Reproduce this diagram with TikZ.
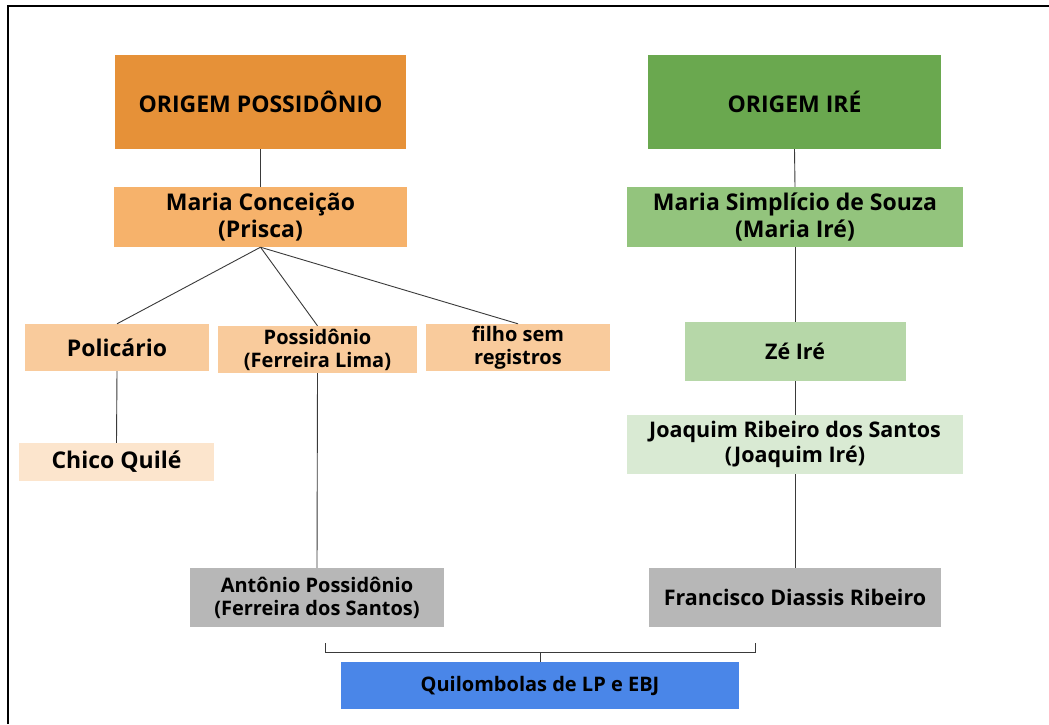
\documentclass[tikz,border=0pt]{standalone}
\usepackage{fontspec}
\setmainfont{Open Sans}[BoldFont={* Bold}]
\definecolor{orA}{HTML}{E69138}
\definecolor{orB}{HTML}{F6B26B}
\definecolor{orC}{HTML}{F9CB9C}
\definecolor{orD}{HTML}{FCE5CD}
\definecolor{grA}{HTML}{6AA84F}
\definecolor{grB}{HTML}{93C47D}
\definecolor{grC}{HTML}{B6D7A8}
\definecolor{grD}{HTML}{D9EAD3}
\definecolor{gyA}{HTML}{B7B7B7}
\definecolor{blA}{HTML}{4A86E8}
\definecolor{lnA}{HTML}{3A3A3A}
\tikzset{
  box/.style={rectangle, inner sep=0pt, align=center, text=black, font=\bfseries\fontsize{23}{27}\selectfont},
  mid/.style={font=\bfseries\fontsize{21.5}{25}\selectfont},
  small/.style={font=\bfseries\fontsize{20}{23}\selectfont},
  link/.style={draw=lnA, line width=0.9pt}
}
\begin{document}
\begin{tikzpicture}[x=1pt,y=-1pt]
\useasboundingbox (0,0) rectangle (1049,724);
\fill[white] (0,0) rectangle (1049,724);
\draw[line width=2.2pt] (8,724) -- (8,6) -- (1049,6);
% left branch
\node[box, fill=orA, minimum width=291, minimum height=94] (oP) at (260.5,102) {ORIGEM POSSIDÔNIO};
\node[box, fill=orB, minimum width=293, minimum height=60] (mc) at (260.5,217) {Maria Conceição\\(Prisca)};
\node[box, fill=orC, minimum width=184, minimum height=47] (pol) at (117,347.5) {Policário};
\node[box, small, fill=orC, minimum width=199, minimum height=47] (pos) at (317.5,349.5) {Possidônio\\(Ferreira Lima)};
\node[box, small, fill=orC, minimum width=184, minimum height=47] (fil) at (518,347.5) {filho sem\\registros};
\node[box, fill=orD, minimum width=195, minimum height=38] (chi) at (116.5,462) {Chico Quilé};
\node[box, small, fill=gyA, minimum width=254, minimum height=59] (ant) at (317,597.5) {Antônio Possidônio\\(Ferreira dos Santos)};
% right branch
\node[box, fill=grA, minimum width=293, minimum height=94] (oI) at (794.5,102) {ORIGEM IRÉ};
\node[box, fill=grB, minimum width=336, minimum height=60] (ms) at (795,217) {Maria Simplício de Souza\\(Maria Iré)};
\node[box, mid, fill=grC, minimum width=221, minimum height=59] (ze) at (795,351.5) {Zé Iré};
\node[box, mid, fill=grD, minimum width=336, minimum height=59] (jo) at (795,444.5) {Joaquim Ribeiro dos Santos\\(Joaquim Iré)};
\node[box, mid, fill=gyA, minimum width=292, minimum height=59] (fr) at (795,597.5) {Francisco Diassis Ribeiro};
% bottom
\node[box, small, fill=blA, minimum width=398, minimum height=47] (qu) at (540,685.5) {Quilombolas de LP e EBJ};
% connectors
\draw[link] (oP.south) -- (mc.north);
\draw[link] (oI.south) -- (ms.north);
\draw[link] (mc.south) -- (pol.north);
\draw[link] (mc.south) -- (pos.north);
\draw[link] (mc.south) -- (fil.north);
\draw[link] (pol.south) -- (chi.north);
\draw[link] (pos.south) -- (ant.north);
\draw[link] (ms.south) -- (ze.north);
\draw[link] (ze.south) -- (jo.north);
\draw[link] (jo.south) -- (fr.north);
\coordinate (bl) at (325,643);
\coordinate (br) at (755,643);
\coordinate (bm) at (540,652);
\draw[link] (bl) -- (bl |- bm) -- (br |- bm) -- (br);
\draw[link] (qu.north) -- (bm);
\end{tikzpicture}
\end{document}
